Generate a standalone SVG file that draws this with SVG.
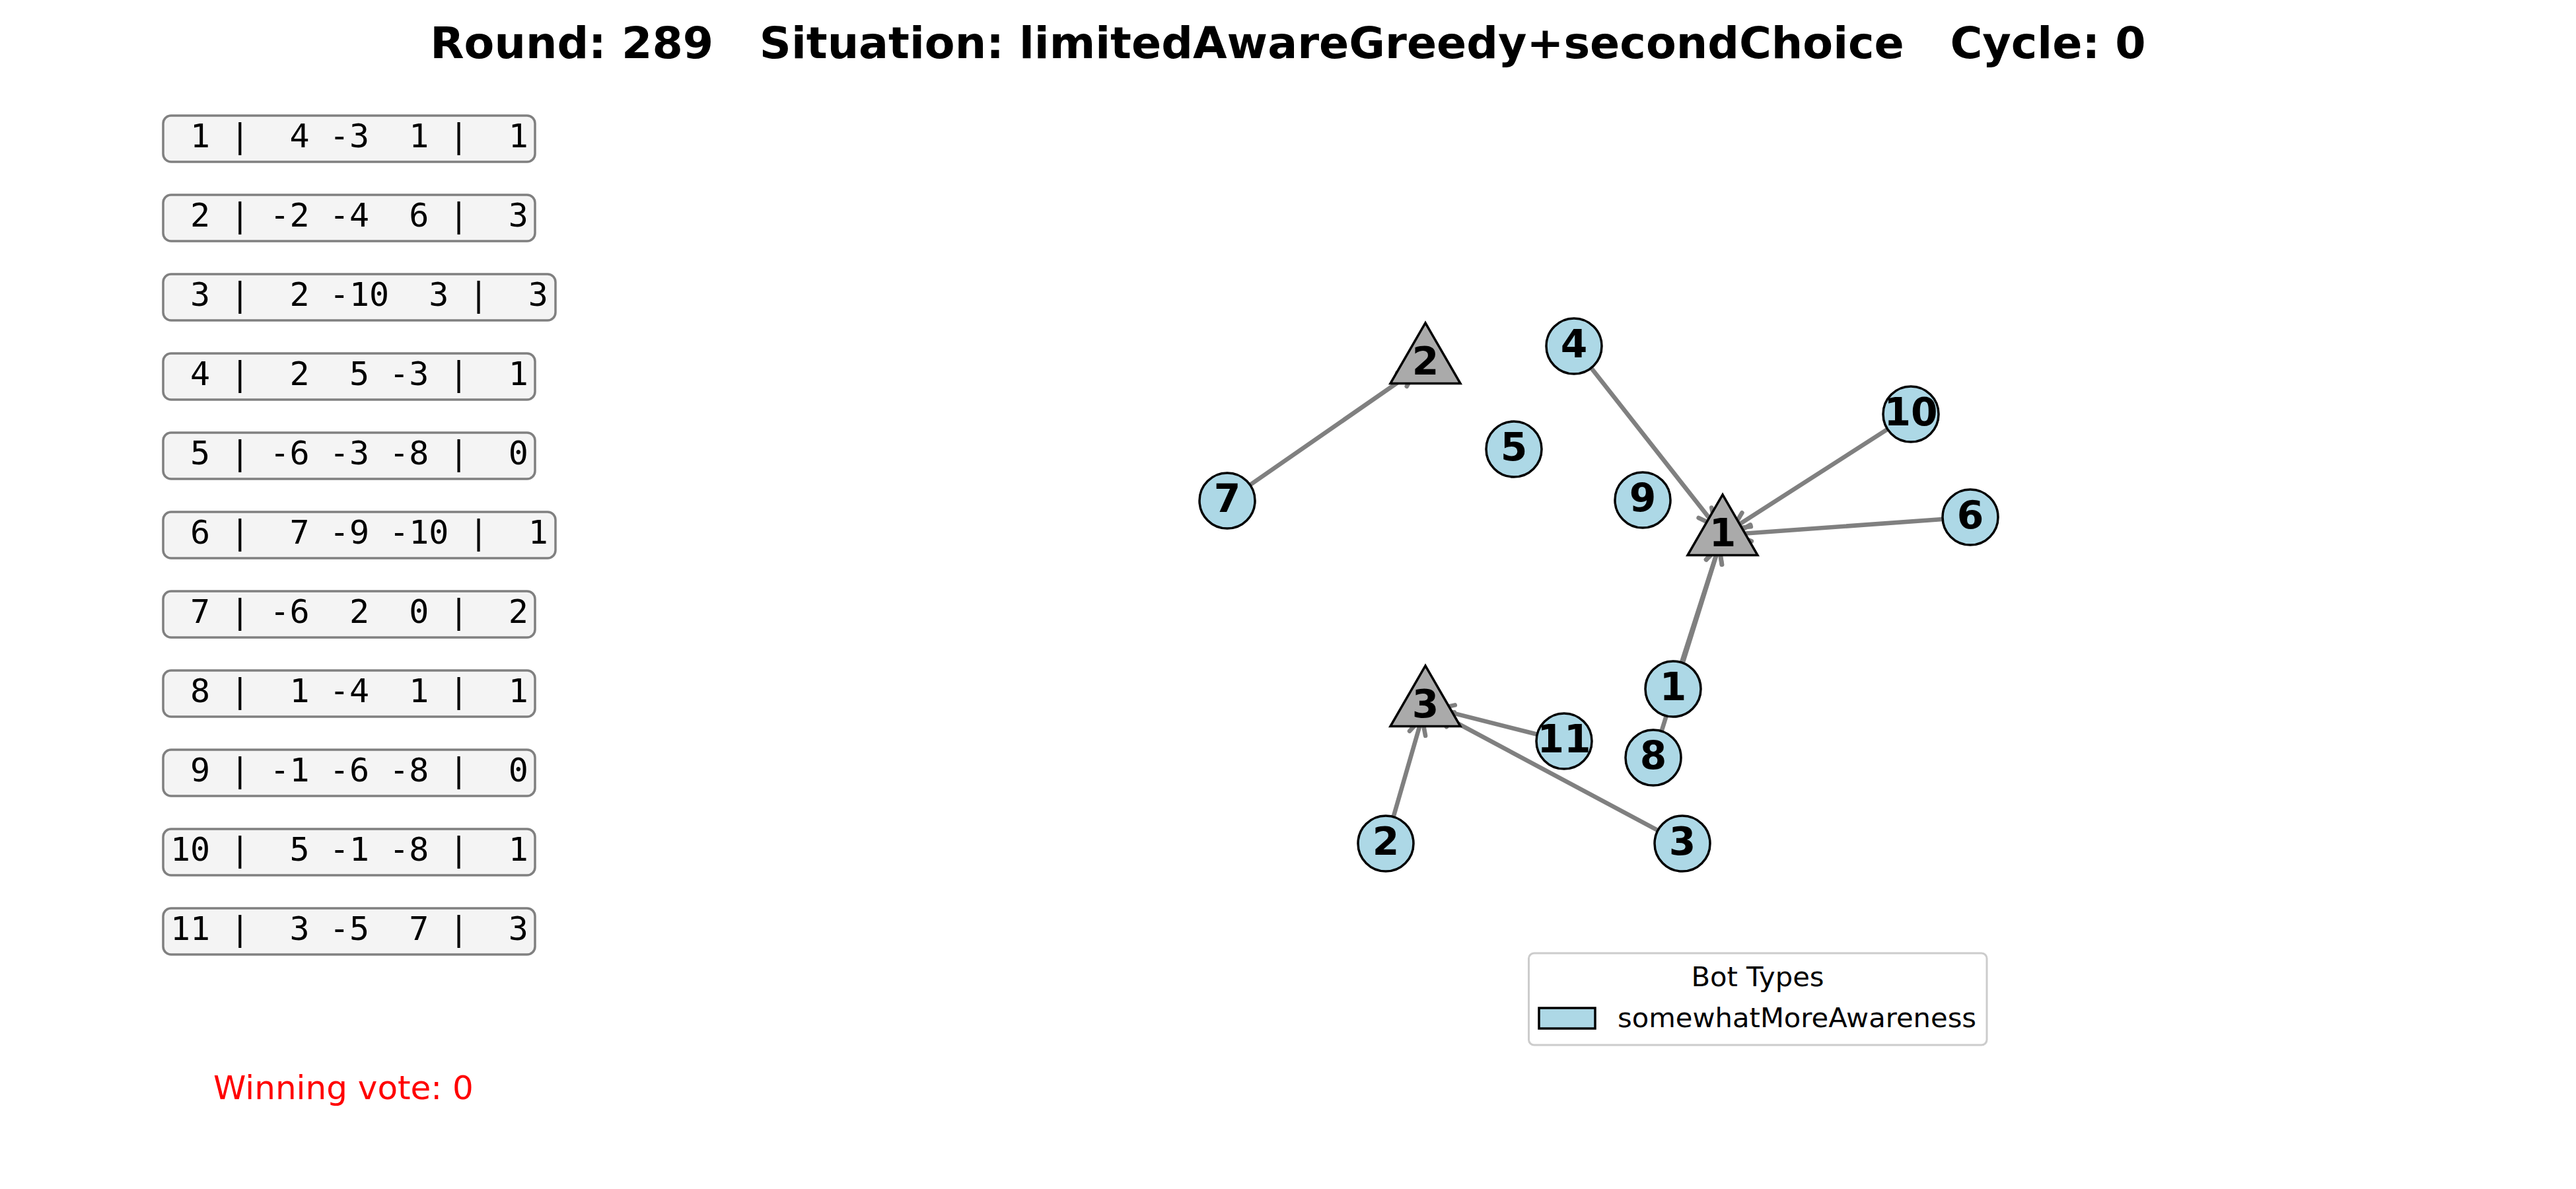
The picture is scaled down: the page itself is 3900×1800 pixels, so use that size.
<svg xmlns="http://www.w3.org/2000/svg" width="3900" height="1800" viewBox="0 0 3900 1800">
  <style>
    .title { font-family: "DejaVu Sans", sans-serif; font-weight: bold; font-size: 66.7px; fill: #000; white-space: pre; }
    .row-box { fill: #f4f4f4; stroke: #808080; stroke-width: 3.5; }
    .row-text { font-family: "DejaVu Sans Mono", monospace; font-size: 50px; fill: #000; white-space: pre; }
    .vote { font-family: "DejaVu Sans", sans-serif; font-size: 50px; fill: #ff0000; }
    .edge { stroke: #808080; stroke-width: 6.6; fill: none; stroke-linecap: round; marker-end: url(#head); }
    .bot { fill: #add8e6; stroke: #000; stroke-width: 3.5; }
    .cand { fill: #aaaaaa; stroke: #000; stroke-width: 3.5; stroke-linejoin: miter; }
    .lbl { font-family: "DejaVu Sans", sans-serif; font-weight: bold; font-size: 58.3px; fill: #000; text-anchor: middle; }
    .legend-box { fill: #ffffff; stroke: #cccccc; stroke-width: 3; }
    .legend-text { font-family: "DejaVu Sans", sans-serif; font-size: 41.7px; fill: #000; }
  </style>
  <defs>
    <marker id="head" markerUnits="userSpaceOnUse" orient="auto" refX="0" refY="0" markerWidth="60" markerHeight="60" overflow="visible">
      <path d="M -25 -12.5 L 0 0 L -25 12.5" fill="none" stroke="#808080" stroke-width="6.6" stroke-linecap="round" stroke-linejoin="round"/>
    </marker>
  </defs>

  <rect width="3900" height="1800" fill="#ffffff"/>

  <text class="title" x="1950" y="88" text-anchor="middle" xml:space="preserve">Round: 289   Situation: limitedAwareGreedy+secondChoice   Cycle: 0</text>

  <!-- preference table -->
  <g id="table">
    <g id="row-1"><rect class="row-box" x="247" y="175" width="563" height="70" rx="12"/><text class="row-text" x="258" y="223" xml:space="preserve"> 1 |  4 -3  1 |  1</text></g>
    <g id="row-2"><rect class="row-box" x="247" y="295" width="563" height="70" rx="12"/><text class="row-text" x="258" y="343" xml:space="preserve"> 2 | -2 -4  6 |  3</text></g>
    <g id="row-3"><rect class="row-box" x="247" y="415" width="594" height="70" rx="12"/><text class="row-text" x="258" y="463" xml:space="preserve"> 3 |  2 -10  3 |  3</text></g>
    <g id="row-4"><rect class="row-box" x="247" y="535" width="563" height="70" rx="12"/><text class="row-text" x="258" y="583" xml:space="preserve"> 4 |  2  5 -3 |  1</text></g>
    <g id="row-5"><rect class="row-box" x="247" y="655" width="563" height="70" rx="12"/><text class="row-text" x="258" y="703" xml:space="preserve"> 5 | -6 -3 -8 |  0</text></g>
    <g id="row-6"><rect class="row-box" x="247" y="775" width="594" height="70" rx="12"/><text class="row-text" x="258" y="823" xml:space="preserve"> 6 |  7 -9 -10 |  1</text></g>
    <g id="row-7"><rect class="row-box" x="247" y="895" width="563" height="70" rx="12"/><text class="row-text" x="258" y="943" xml:space="preserve"> 7 | -6  2  0 |  2</text></g>
    <g id="row-8"><rect class="row-box" x="247" y="1015" width="563" height="70" rx="12"/><text class="row-text" x="258" y="1063" xml:space="preserve"> 8 |  1 -4  1 |  1</text></g>
    <g id="row-9"><rect class="row-box" x="247" y="1135" width="563" height="70" rx="12"/><text class="row-text" x="258" y="1183" xml:space="preserve"> 9 | -1 -6 -8 |  0</text></g>
    <g id="row-10"><rect class="row-box" x="247" y="1255" width="563" height="70" rx="12"/><text class="row-text" x="258" y="1303" xml:space="preserve">10 |  5 -1 -8 |  1</text></g>
    <g id="row-11"><rect class="row-box" x="247" y="1375" width="563" height="70" rx="12"/><text class="row-text" x="258" y="1423" xml:space="preserve">11 |  3 -5  7 |  3</text></g>
  </g>

  <text class="vote" x="323" y="1664">Winning vote: 0</text>

  <!-- votes: bot -> candidate -->
  <g id="edges">
    <line class="edge" x1="1892.5" y1="734.1" x2="2143.2" y2="560.3"/>
    <line class="edge" x1="2409.0" y1="557.0" x2="2596.9" y2="795.9"/>
    <line class="edge" x1="2857.7" y1="649.7" x2="2623.1" y2="800.3"/>
    <line class="edge" x1="2941.1" y1="786.0" x2="2626.0" y2="808.7"/>
    <line class="edge" x1="2545.9" y1="1003.0" x2="2602.5" y2="827.1"/>
    <line class="edge" x1="2515.5" y1="1106.9" x2="2602.6" y2="827.2"/>
    <line class="edge" x1="2327.3" y1="1111.7" x2="2175.5" y2="1073.4"/>
    <line class="edge" x1="2109.6" y1="1236.7" x2="2153.0" y2="1086.3"/>
    <line class="edge" x1="2510.0" y1="1257.2" x2="2173.9" y2="1077.5"/>
  </g>

  <!-- candidates -->
  <g id="cand-1"><polygon class="cand" points="2608,748.8 2555,840.6 2661,840.6"/><text class="lbl" x="2608" y="827">1</text></g>
  <g id="cand-2"><polygon class="cand" points="2158,488.8 2105,580.6 2211,580.6"/><text class="lbl" x="2158" y="567">2</text></g>
  <g id="cand-3"><polygon class="cand" points="2158,1007.8 2105,1099.6 2211,1099.6"/><text class="lbl" x="2158" y="1086">3</text></g>

  <!-- bots -->
  <g id="bot-1"><circle class="bot" cx="2533" cy="1043" r="42"/><text class="lbl" x="2533" y="1060">1</text></g>
  <g id="bot-2"><circle class="bot" cx="2098" cy="1277" r="42"/><text class="lbl" x="2098" y="1294">2</text></g>
  <g id="bot-3"><circle class="bot" cx="2547" cy="1277" r="42"/><text class="lbl" x="2547" y="1294">3</text></g>
  <g id="bot-4"><circle class="bot" cx="2383" cy="524" r="42"/><text class="lbl" x="2383" y="541">4</text></g>
  <g id="bot-5"><circle class="bot" cx="2292" cy="680" r="42"/><text class="lbl" x="2292" y="697">5</text></g>
  <g id="bot-6"><circle class="bot" cx="2983" cy="783" r="42"/><text class="lbl" x="2983" y="800">6</text></g>
  <g id="bot-7"><circle class="bot" cx="1858" cy="758" r="42"/><text class="lbl" x="1858" y="775">7</text></g>
  <g id="bot-8"><circle class="bot" cx="2503" cy="1147" r="42"/><text class="lbl" x="2503" y="1164">8</text></g>
  <g id="bot-9"><circle class="bot" cx="2487" cy="757" r="42"/><text class="lbl" x="2487" y="774">9</text></g>
  <g id="bot-10"><circle class="bot" cx="2893" cy="627" r="42"/><text class="lbl" x="2893" y="644">10</text></g>
  <g id="bot-11"><circle class="bot" cx="2368" cy="1122" r="42"/><text class="lbl" x="2368" y="1139">11</text></g>

  <!-- legend -->
  <g id="legend">
    <rect class="legend-box" x="2314.5" y="1443" width="693.5" height="139" rx="8"/>
    <text class="legend-text" x="2661" y="1493" text-anchor="middle">Bot Types</text>
    <rect x="2330" y="1526" width="85" height="31" fill="#add8e6" stroke="#000" stroke-width="3.5"/>
    <text class="legend-text" x="2449" y="1555">somewhatMoreAwareness</text>
  </g>
</svg>
